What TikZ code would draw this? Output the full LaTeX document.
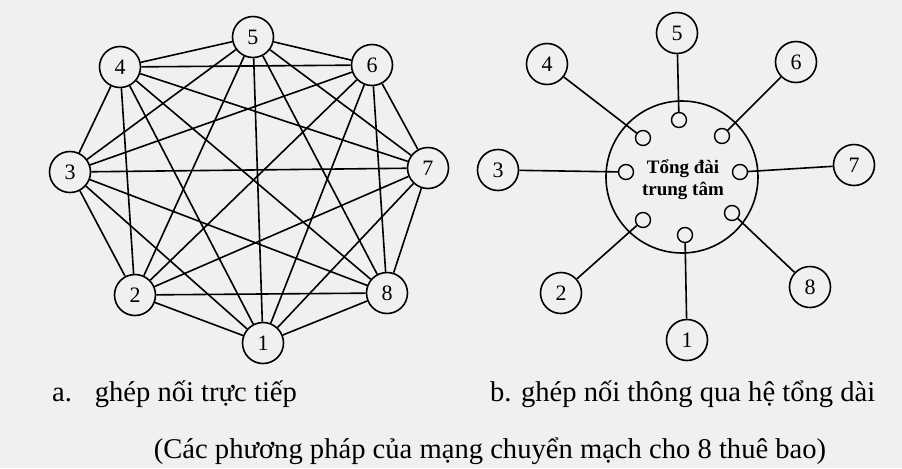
\documentclass[tikz,border=0pt]{standalone}
\usepackage{fontspec}
\setmainfont{Liberation Serif}
\usepackage{tikz}

\begin{document}
\begin{tikzpicture}[x=0.5pt,y=-0.5pt,
		sub/.style={circle,draw,line width=0.8pt,minimum size=20.5pt,inner sep=0pt,
			font=\fontsize{11}{11}\selectfont},
		port/.style={circle,draw,line width=0.7pt,minimum size=7.5pt,inner sep=0pt},
		link/.style={line width=0.8pt},
		caption/.style={font=\fontsize{14.3}{16}\selectfont}]
	% page and background
	\useasboundingbox (0,0) rectangle (902,468);
	\fill[black!6] (0,0) rectangle (902,468);
	% a. every subscriber wired to every other one
	\foreach \n/\x/\y in {1/263/343,2/135/295,3/70/172,4/120/67,5/253/37,6/372/65,7/428/168,8/387/293}{
		\node[sub] (a\n) at (\x,\y) {\n};
	}
	\foreach \i in {1,...,7}{
		\pgfmathtruncatemacro\k{\i+1}
		\foreach \j in {\k,...,8}{
			\draw[link] (a\i) -- (a\j);
		}
	}
	% b. subscribers joined through the central exchange
	\node[circle,draw,line width=0.8pt,minimum size=76pt,inner sep=0pt] (hub) at (682,177) {};
	\node[align=center,font=\fontsize{9.5}{11}\selectfont\bfseries] (hubtext) at (683,180) {Tổng đài\\trung tâm};
	\foreach \n/\x/\y/\px/\py in {1/687/340/685/235,2/561/293/643/220,3/498/170/626/172,4/547/64/643/138,
		5/677/33/679/120,6/796/62/722/136,7/854/165/740/172,8/810/287/732/213}{
		\node[sub] (b\n) at (\x,\y) {\n};
		\node[port] (p\n) at (\px,\py) {};
		\draw[link] (b\n) -- (p\n);
	}
	% captions
	\node[anchor=base west,caption] (capa) at (45,401) {a.\hspace{0.8em}ghép nối trực tiếp};
	\node[anchor=base west,caption] (capb) at (483,401) {b. ghép nối thông qua hệ tổng dài};
	\node[anchor=base,caption] (title) at (490,458) {(Các phương pháp của mạng chuyển mạch cho 8 thuê bao)};
\end{tikzpicture}
\end{document}
